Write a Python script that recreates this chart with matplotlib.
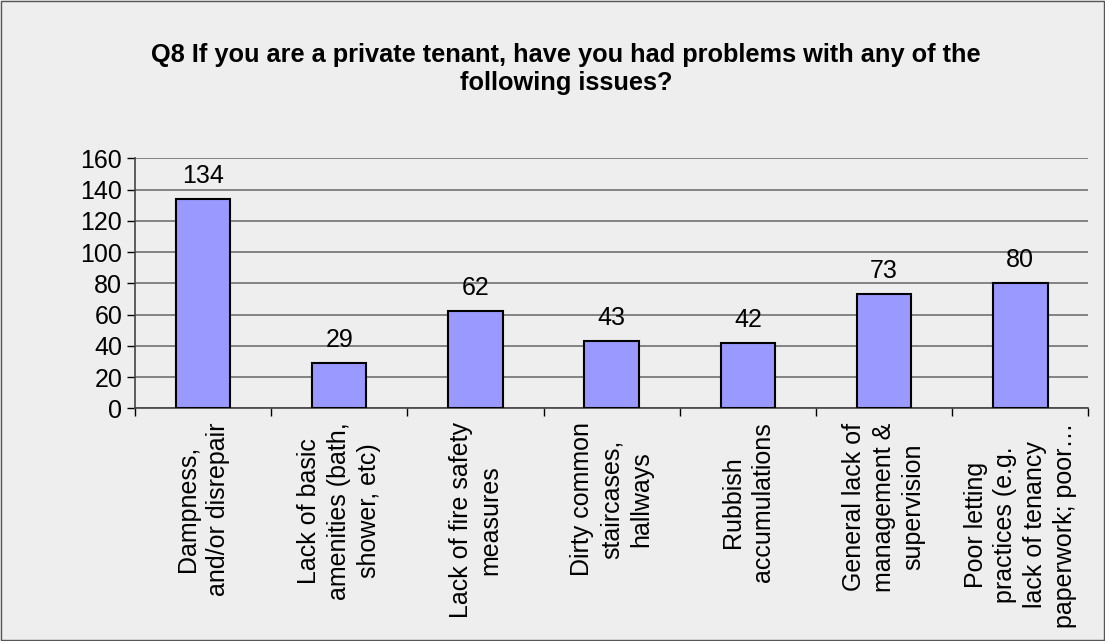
import matplotlib.pyplot as plt
import numpy as np
from matplotlib.patches import Rectangle

plt.rcParams['font.family'] = ['Liberation Sans', 'DejaVu Sans']

categories = [
    'Dampness,\nand/or disrepair',
    'Lack of basic\namenities (bath,\nshower, etc)',
    'Lack of fire safety\nmeasures',
    'Dirty common\nstaircases,\nhallways',
    'Rubbish\naccumulations',
    'General lack of\nmanagement &\nsupervision',
    'Poor letting\npractices (e.g.\nlack of tenancy\npaperwork; poor\u2026',
]
counts = [134, 29, 62, 43, 42, 73, 80]
yticks = [0, 20, 40, 60, 80, 100, 120, 140, 160]

bg = '#eeeeee'
fig = plt.figure(figsize=(11.05, 6.41), dpi=100, facecolor=bg)
fig.patches.append(Rectangle((0.001, 0.001), 0.998, 0.998, transform=fig.transFigure,
                             fill=False, edgecolor='#555555', linewidth=1.0))
ax = fig.add_axes([0.122, 0.363, 0.863, 0.39], facecolor=bg)

x = np.arange(len(counts))
bars = ax.bar(x, counts, width=0.4, color='#9999ff', edgecolor='black', linewidth=1.5, zorder=3)
for rect, v in zip(bars, counts):
    ax.annotate(str(v), xy=(rect.get_x() + rect.get_width() / 2, v), xytext=(0, 8),
                textcoords='offset points', ha='center', va='bottom', fontsize=18)

ax.set_xlim(-0.5, len(counts) - 0.5)
ax.set_ylim(0, 160)
ax.set_yticks(yticks)
ax.tick_params(axis='y', labelsize=18, length=6, width=1, direction='out', pad=3)
ax.yaxis.grid(True, color='#707070', linewidth=1.2, zorder=0)
ax.set_axisbelow(True)

# category boundaries get the tick marks, labels sit under the bar centres
ax.set_xticks(np.arange(-0.5, len(counts)), minor=True)
ax.set_xticks(x)
ax.set_xticklabels(categories, rotation=90, ha='center', va='top', multialignment='center',
                   fontsize=18, linespacing=1.3)
ax.tick_params(axis='x', which='major', length=0, pad=10)
ax.tick_params(axis='x', which='minor', length=6, width=1, direction='out')

for s in ['top', 'right']:
    ax.spines[s].set_visible(False)
for s in ['left', 'bottom']:
    ax.spines[s].set_color('#444444')
    ax.spines[s].set_linewidth(1.2)

fig.text(0.512, 0.892, 'Q8 If you are a private tenant, have you had problems with any of the\nfollowing issues?',
         ha='center', va='center', fontsize=18.3, fontweight='bold', linespacing=1.2)

fig.savefig('out.png', dpi=100, facecolor=bg)
